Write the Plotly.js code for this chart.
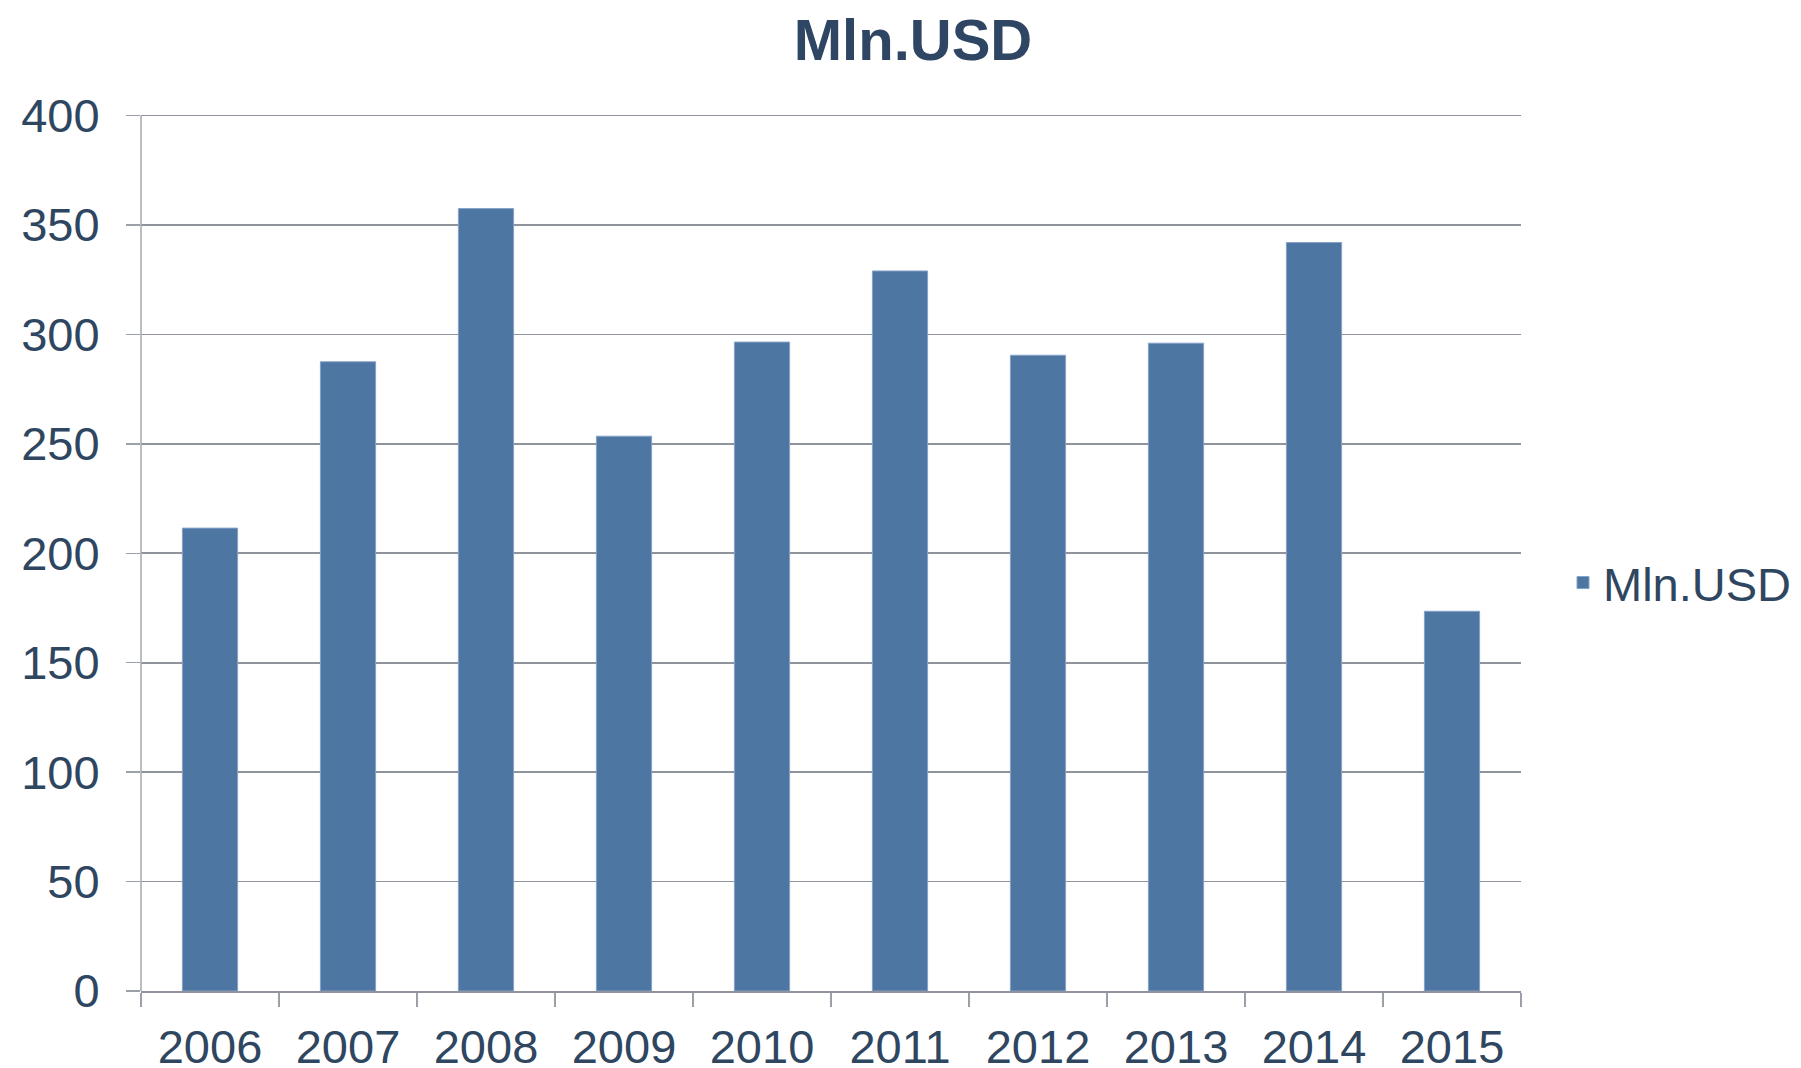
<!DOCTYPE html>
<html>
<head>
<meta charset="utf-8">
<script src="https://cdn.plot.ly/plotly-3.0.1.min.js"></script>
<style>html,body{margin:0;padding:0;background:#fff;}#chart{width:1801px;height:1068px;}</style>
</head>
<body>
<div id="chart"></div>
<script>
const categories = ['2006','2007','2008','2009','2010','2011','2012','2013','2014','2015'];
const values = [211.5, 287.5, 357.5, 253.5, 296.5, 329, 290.5, 296, 342, 173.5];
const seriesName = 'Mln.USD';
const titleText = 'Mln.USD';
const yTicks = [0, 50, 100, 150, 200, 250, 300, 350, 400];

const textColor = '#2F4661';
const gridColor = '#8E939C';

const trace = {
  type: 'bar',
  x: categories,
  y: values,
  name: seriesName,
  marker: {color: '#4E76A3', line: {color: '#86A2C8', width: 1}},
  showlegend: true
};

// y range slightly above the top tick so the top gridline is drawn; top margin compensates
const yTop = yTicks[yTicks.length - 1];
const yMax = yTop + 3;
const plotBottom = 991, pxPer = 875/yTop;
const topMargin = Math.round(plotBottom - yMax*pxPer);

const layout = {
  width: 1801, height: 1068,
  paper_bgcolor: '#ffffff', plot_bgcolor: '#ffffff',
  margin: {l: 141, r: 280, t: topMargin, b: 1068 - plotBottom, pad: 0, autoexpand: false},
  font: {family: '"Liberation Sans", Arial, sans-serif', color: textColor, size: 47},
  title: {text: '<b>' + titleText + '</b>', font: {size: 58, color: '#2E4563', family: '"Liberation Sans", Arial, sans-serif'},
          x: 913/1801, xanchor: 'center', y: 1 - 60/1068, yanchor: 'bottom', yref: 'container'},
  bargap: 0.6,
  xaxis: {
    type: 'category',
    tickson: 'boundaries',
    ticks: 'outside', ticklen: 14, tickwidth: 1.5, tickcolor: '#9CA0A8',
    showgrid: false,
    showline: true, linecolor: gridColor, linewidth: 1.8,
    tickfont: {size: 47, color: textColor},
    ticklabelstandoff: 14,
    fixedrange: true
  },
  yaxis: {
    range: [0, yMax],
    tickvals: yTicks,
    ticktext: yTicks.map(String),
    ticks: 'outside', ticklen: 14, tickwidth: 1.5, tickcolor: '#9CA0A8',
    showgrid: true, gridcolor: gridColor, gridwidth: 1.8,
    zeroline: false,
    showline: false,
    tickfont: {size: 47, color: textColor},
    ticklabelstandoff: 17,
    fixedrange: true
  },
  shapes: [
    {type: 'line', xref: 'paper', yref: 'y', x0: 0, x1: 0, y0: 0, y1: yTop,
     line: {color: '#A3A7AE', width: 1.5}, layer: 'above'}
  ],
  showlegend: true,
  legend: {x: (1563-141)/1380, xanchor: 'left', y: (plotBottom - 583)/(plotBottom - topMargin), yanchor: 'middle',
           font: {size: 47, color: textColor}, bgcolor: 'rgba(0,0,0,0)', borderwidth: 0}
};

Plotly.newPlot('chart', [trace], layout, {staticPlot: true, displayModeBar: false});
</script>
</body>
</html>
